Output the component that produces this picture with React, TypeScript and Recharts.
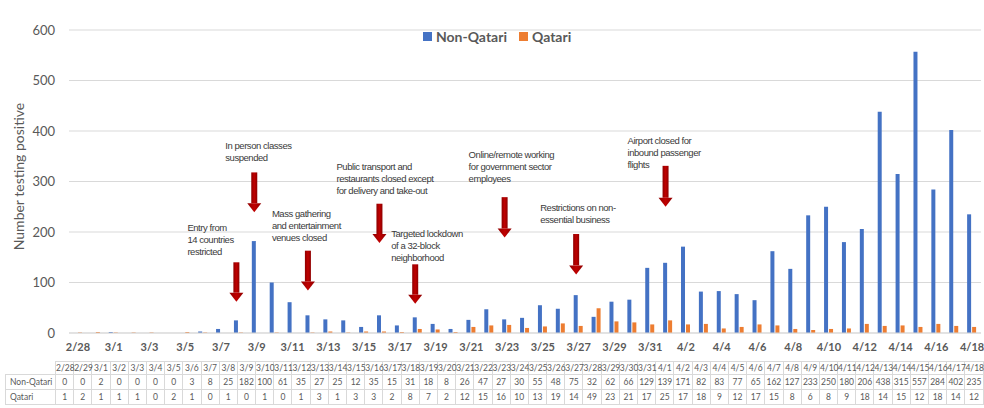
import React from "react";
import { Bar, BarChart, CartesianGrid, Legend, ReferenceLine, XAxis, YAxis } from "recharts";

// Daily positives by nationality, 2/28 – 4/18
const dates = [
  "2/28", "2/29", "3/1", "3/2", "3/3", "3/4", "3/5", "3/6", "3/7", "3/8",
  "3/9", "3/10", "3/11", "3/12", "3/13", "3/14", "3/15", "3/16", "3/17", "3/18",
  "3/19", "3/20", "3/21", "3/22", "3/23", "3/24", "3/25", "3/26", "3/27", "3/28",
  "3/29", "3/30", "3/31", "4/1", "4/2", "4/3", "4/4", "4/5", "4/6", "4/7",
  "4/8", "4/9", "4/10", "4/11", "4/12", "4/13", "4/14", "4/15", "4/16", "4/17", "4/18",
];

const nonQatari = [
  0, 0, 2, 0, 0, 0, 0, 3, 8, 25,
  182, 100, 61, 35, 27, 25, 12, 35, 15, 31,
  18, 8, 26, 47, 27, 30, 55, 48, 75, 32,
  62, 66, 129, 139, 171, 82, 83, 77, 65, 162,
  127, 233, 250, 180, 206, 438, 315, 557, 284, 402, 235,
];

const qatari = [
  1, 2, 1, 1, 1, 0, 2, 1, 0, 1,
  0, 1, 0, 1, 3, 1, 3, 3, 2, 8,
  7, 2, 12, 15, 16, 10, 13, 19, 14, 49,
  23, 21, 17, 25, 17, 18, 9, 12, 17, 15,
  8, 6, 8, 9, 18, 14, 15, 12, 18, 14, 12,
];

const yTicks = [0, 100, 200, 300, 400, 500, 600];

// Policy events: arrow runs from `from` down to `to` (in case counts) above the date
const events = [
  { date: "3/8", from: 140, to: 62, lines: ["Entry from", "14 countries", "restricted"] },
  { date: "3/9", from: 318, to: 239, lines: ["In person classes", "suspended"] },
  { date: "3/12", from: 163, to: 84, lines: ["Mass gathering", "and entertainment", "venues closed"] },
  { date: "3/16", from: 256, to: 178, lines: ["Public transport and", "restaurants closed except", "for delivery and take-out"] },
  { date: "3/18", from: 136, to: 58, lines: ["Targeted lockdown", "of a 32-block", "neighborhood"] },
  { date: "3/23", from: 269, to: 189, lines: ["Online/remote working", "for government sector", "employees"] },
  { date: "3/27", from: 196, to: 116, lines: ["Restrictions on non-", "essential business"] },
  { date: "4/1", from: 331, to: 250, lines: ["Airport closed for", "inbound passenger", "flights"] },
];

// text block offset (px) from the top of each arrow
const labelOffsets = [
  [-49, -35], [-29, -27], [-36, -37], [-43, -37],
  [-24, -31], [-36, -42], [-36, -26], [-38, -25],
];

const rows = dates.map((date, i) => ({ date, nonQatari: nonQatari[i], qatari: qatari[i] }));

const BLUE = "#4472C4";
const ORANGE = "#ED7D31";
const GREY = "#595959";
const FONT = "Lato, 'Noto Sans', sans-serif";

function EventArrow(props: any) {
  const { x1, y1, y2, lines, offset } = props;
  const x = x1 - 2.5;
  const headH = 9;
  const shaftW = 6;
  const headW = 14;
  return (
    <g>
      <rect x={x - shaftW / 2} y={y1} width={shaftW} height={y2 - y1 - headH} fill="url(#arrowRed)" />
      <polygon
        points={`${x - headW / 2},${y2 - headH} ${x + headW / 2},${y2 - headH} ${x},${y2}`}
        fill="url(#arrowRed)"
      />
      <text
        x={x + offset[0]}
        y={y1 + offset[1]}
        fontSize={9.5}
        fill="#3a3a3a"
        letterSpacing={-0.45}
        style={{ fontFamily: "'Liberation Sans', Arial, sans-serif" }}
      >
        {lines.map((l: string, i: number) => (
          <tspan key={i} x={x + offset[0]} dy={i === 0 ? "0.35em" : 12}>
            {l}
          </tspan>
        ))}
      </text>
    </g>
  );
}

function LegendContent() {
  const item = (color: string, label: string) => (
    <span style={{ display: "inline-flex", alignItems: "center", marginRight: 12 }}>
      <span style={{ width: 9, height: 9, background: color, marginRight: 4, display: "inline-block" }} />
      <span>{label}</span>
    </span>
  );
  return (
    <div style={{ fontFamily: FONT, fontSize: 14, fontWeight: 700, color: GREY, whiteSpace: "nowrap" }}>
      {item(BLUE, "Non-Qatari")}
      {item(ORANGE, "Qatari")}
    </div>
  );
}

const cell: React.CSSProperties = {
  border: "1px solid #d9d9d9",
  padding: 0,
  textAlign: "center",
  whiteSpace: "nowrap",
  overflow: "visible",
};

export default function App() {
  return (
    <div
      style={{
        position: "absolute",
        left: 0,
        top: 0,
        width: 984,
        height: 408,
        background: "#fff",
        fontFamily: FONT,
        overflow: "hidden",
      }}
    >
      <BarChart
        width={984}
        height={360}
        data={rows}
        margin={{ top: 12, right: 3, left: 0, bottom: 0 }}
        barGap={1}
      >
        <defs>
          <linearGradient id="arrowRed" x1="0" y1="0" x2="1" y2="0">
            <stop offset="0%" stopColor="#8E0000" />
            <stop offset="50%" stopColor="#C00000" />
            <stop offset="100%" stopColor="#8E0000" />
          </linearGradient>
        </defs>
        <CartesianGrid vertical={false} stroke="#d9d9d9" />
        <XAxis
          dataKey="date"
          interval={1}
          tickLine={false}
          axisLine={{ stroke: "#d9d9d9" }}
          tickMargin={4}
          tick={{ fill: GREY, fontSize: 11, fontWeight: 700 }}
          height={27}
        />
        <YAxis
          width={69}
          domain={[0, 600]}
          ticks={yTicks}
          tickLine={false}
          axisLine={false}
          tickMargin={8}
          tick={{ fill: GREY, fontSize: 13 }}
          label={(p: any) => {
            const vb = p.viewBox || { x: 0, y: 12, height: 321 };
            const cx = 18;
            const cy = vb.y + vb.height / 2 - 5;
            return (
              <text
                transform={`translate(${cx},${cy}) rotate(-90)`}
                textAnchor="middle"
                dominantBaseline="central"
                fontSize={14}
                fill={GREY}
              >
                Number testing positive
              </text>
            );
          }}
        />
        <Legend
          verticalAlign="top"
          align="left"
          wrapperStyle={{ top: 27, left: 423, width: 200 }}
          content={() => <LegendContent />}
        />
        <Bar dataKey="nonQatari" name="Non-Qatari" fill={BLUE} barSize={4} isAnimationActive={false} />
        <Bar dataKey="qatari" name="Qatari" fill={ORANGE} barSize={4} isAnimationActive={false} />
        {events.map((e, i) => (
          <ReferenceLine
            key={e.date}
            segment={[
              { x: e.date, y: e.from },
              { x: e.date, y: e.to },
            ]}
            ifOverflow="visible"
            shape={(p: any) => <EventArrow {...p} lines={e.lines} offset={labelOffsets[i]} />}
          />
        ))}
      </BarChart>

      <table
        style={{
          position: "absolute",
          left: 5,
          top: 361,
          borderCollapse: "collapse",
          tableLayout: "fixed",
          width: 978,
          fontSize: 8.5,
          color: GREY,
          lineHeight: "12px",
        }}
      >
        <colgroup>
          <col style={{ width: 50 }} />
          {dates.map((d) => (
            <col key={d} style={{ width: 18.2 }} />
          ))}
        </colgroup>
        <tbody>
          <tr style={{ height: 13 }}>
            <td style={{ padding: 0, border: "none" }} />
            {dates.map((d) => (
              <td key={d} style={cell}>
                {d}
              </td>
            ))}
          </tr>
          <tr style={{ height: 15 }}>
            <td style={{ ...cell, textAlign: "left", paddingLeft: 4 }}>Non-Qatari</td>
            {nonQatari.map((v, i) => (
              <td key={i} style={cell}>
                {v}
              </td>
            ))}
          </tr>
          <tr style={{ height: 15 }}>
            <td style={{ ...cell, textAlign: "left", paddingLeft: 4 }}>Qatari</td>
            {qatari.map((v, i) => (
              <td key={i} style={cell}>
                {v}
              </td>
            ))}
          </tr>
        </tbody>
      </table>
    </div>
  );
}
